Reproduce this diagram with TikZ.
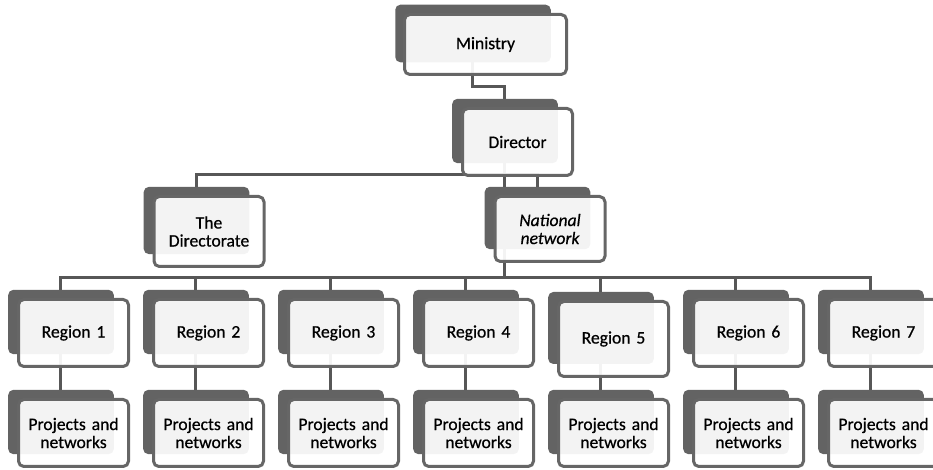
\documentclass[tikz,border=0pt]{standalone}
\usepackage{fontspec}
\setmainfont{Carlito}[FakeBold=0.6]
\usetikzlibrary{positioning,shadows,backgrounds}
\definecolor{boxgray}{HTML}{636363}
\definecolor{rimgray}{HTML}{666666}
\definecolor{linegray}{HTML}{575757}
\tikzstyle{orgbox}=[rectangle, rounded corners=4pt, draw=rimgray, line width=2.25pt,
 fill=white, fill opacity=0.93, text opacity=1, text=black,
 general shadow={fill=boxgray, fill opacity=1, draw=none, shadow xshift=-9.75pt,
 shadow yshift=8.6pt, shadow scale=0.96},
 minimum width=82.5pt, minimum height=50.25pt, inner sep=2pt, text width=78pt,
 align=center, font=\fontsize{13.2}{13.5}\selectfont]
\tikzstyle{conline}=[-, line width=2.25pt, draw=linegray]

\begin{document}
\begin{tikzpicture}[x=0.75pt,y=-0.75pt]
\useasboundingbox (0,0) rectangle (933,470);

\node (MIN) [orgbox, minimum width=121.5pt, minimum height=45pt, text width=110pt] at (485.5,44.5) {Ministry};
\node (DIR) [orgbox] at (517.5,142) {Director};
\node (DIRTE) [orgbox, minimum height=52.5pt] at (209,231.5) {The\\ Directorate};
\node (NATNET) [orgbox, minimum height=48.75pt] at (550,229) {\itshape National\\ network};

\node (REG1) [orgbox] at (73.5,333) {Region 1};
\node (REG2) [orgbox, right=16.5pt of REG1] {Region 2};
\node (REG3) [orgbox, right=16.5pt of REG2] {Region 3};
\node (REG4) [orgbox, right=16.5pt of REG3] {Region 4};
\node (REG5) [orgbox, minimum height=56.25pt, right=16.5pt of REG4, yshift=-4.5pt] {Region 5};
\node (REG6) [orgbox, right=16.5pt of REG5, yshift=4.5pt] {Region 6};
\node (REG7) [orgbox, right=16.5pt of REG6] {Region 7};

\node (PRJ1) [orgbox, below=22.5pt of REG1] {Projects and\\ networks};
\node (PRJ2) [orgbox, right=16.5pt of PRJ1] {Projects and\\ networks};
\node (PRJ3) [orgbox, right=16.5pt of PRJ2] {Projects and\\ networks};
\node (PRJ4) [orgbox, right=16.5pt of PRJ3] {Projects and\\ networks};
\node (PRJ5) [orgbox, right=16.5pt of PRJ4] {Projects and\\ networks};
\node (PRJ6) [orgbox, right=16.5pt of PRJ5] {Projects and\\ networks};
\node (PRJ7) [orgbox, right=16.5pt of PRJ6] {Projects and\\ networks};

\begin{scope}[on background layer]
 \draw[conline] ([xshift=-9.75pt]MIN.center) -- ++(0,42) -| ([xshift=-9.75pt]DIR.center);
 \draw[conline] ([xshift=-9.75pt]DIR.center) -- ++(0,33) -| ([xshift=-9.75pt]DIRTE.center);
 \draw[conline] ([xshift=-9.75pt]DIR.center) -- ++(0,33) -| ([xshift=-9.75pt]NATNET.center);
 \draw[conline] ([xshift=-9.75pt]DIR.center) -- ++(0,136) -| ([xshift=-9.75pt]REG1.center);
 \draw[conline] ([xshift=-9.75pt]DIR.center) -- ++(0,136) -| ([xshift=-9.75pt]REG2.center);
 \draw[conline] ([xshift=-9.75pt]DIR.center) -- ++(0,136) -| ([xshift=-9.75pt]REG3.center);
 \draw[conline] ([xshift=-9.75pt]DIR.center) -- ++(0,136) -| ([xshift=-9.75pt]REG4.center);
 \draw[conline] ([xshift=-9.75pt]DIR.center) -- ++(0,136) -| ([xshift=-9.75pt]REG5.center);
 \draw[conline] ([xshift=-9.75pt]DIR.center) -- ++(0,136) -| ([xshift=-9.75pt]REG6.center);
 \draw[conline] ([xshift=-9.75pt]DIR.center) -- ++(0,136) -| ([xshift=-9.75pt]REG7.center);
 \draw[conline] ([xshift=-9.75pt]REG1.center) -- ([xshift=-9.75pt]PRJ1.center);
 \draw[conline] ([xshift=-9.75pt]REG2.center) -- ([xshift=-9.75pt]PRJ2.center);
 \draw[conline] ([xshift=-9.75pt]REG3.center) -- ([xshift=-9.75pt]PRJ3.center);
 \draw[conline] ([xshift=-9.75pt]REG4.center) -- ([xshift=-9.75pt]PRJ4.center);
 \draw[conline] ([xshift=-9.75pt]REG5.center) -- ([xshift=-9.75pt]PRJ5.center);
 \draw[conline] ([xshift=-9.75pt]REG6.center) -- ([xshift=-9.75pt]PRJ6.center);
 \draw[conline] ([xshift=-9.75pt]REG7.center) -- ([xshift=-9.75pt]PRJ7.center);
\end{scope}

\end{tikzpicture}
\end{document}
